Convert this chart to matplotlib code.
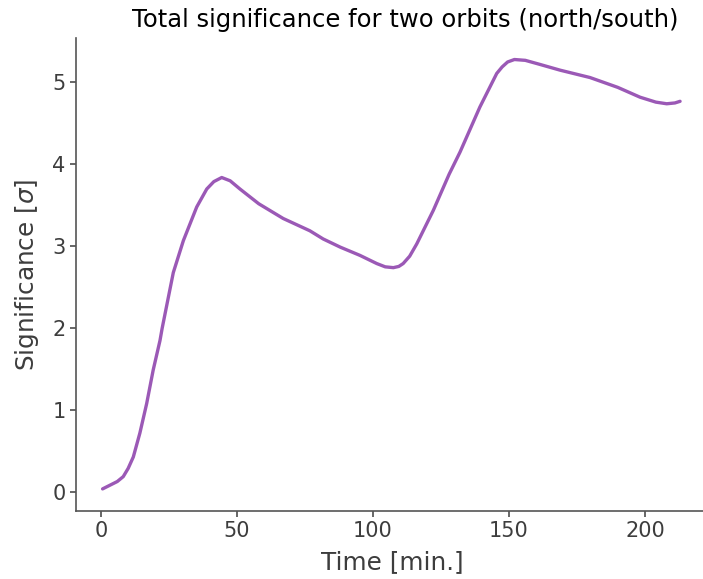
import matplotlib
matplotlib.use('Agg')
import matplotlib.pyplot as plt

# time [min.] and significance
time_min = [0.6, 3.3, 6, 8.2, 10, 11.9, 14.3, 16.8, 19.2, 21.7, 22.5, 26.6, 30.3,
            35.2, 38.9, 41.5, 44.4, 47.5, 51.1, 58, 67, 76.8, 81.7, 88, 95.2, 101.4,
            104.5, 107.5, 109.5, 111.1, 113.5, 116.1, 122.2, 128, 132, 139.3, 145.5,
            147.5, 149.5, 152, 156, 161.4, 168.8, 179.8, 190, 198.2, 204, 208, 211, 212.9]
signif = [0.04, 0.085, 0.13, 0.19, 0.29, 0.43, 0.72, 1.08, 1.49, 1.85, 2.0, 2.68, 3.07,
          3.48, 3.70, 3.79, 3.84, 3.80, 3.70, 3.52, 3.34, 3.19, 3.09, 2.99, 2.89, 2.79,
          2.75, 2.74, 2.755, 2.79, 2.88, 3.03, 3.44, 3.88, 4.15, 4.70, 5.11,
          5.19, 5.25, 5.28, 5.27, 5.22, 5.15, 5.06, 4.94, 4.82, 4.76, 4.74, 4.75, 4.77]

text_col = '#3d3d3d'

fig = plt.figure(figsize=(7.03, 5.79), dpi=100)
# right end of the axes is just past the picture edge
ax = fig.add_axes([0.108, 0.1174, 0.9004, 0.8166])

ax.plot(time_min, signif, color='#9b59b6', lw=2.4, solid_capstyle='round')

ax.set_title('Total significance for two orbits (north/south)', fontsize=17.5,
             color='black', pad=8, x=0.521)
ax.set_xlabel('Time [min.]', fontsize=17.8, color=text_col, labelpad=6)
ax.set_ylabel(r'Significance [$\sigma$]', fontsize=17.8, color=text_col, labelpad=8)

ax.set_xlim(-9.2, 223.5)
ax.set_ylim(-0.23, 5.54)
ax.set_xticks([0, 50, 100, 150, 200])
ax.set_yticks([0, 1, 2, 3, 4, 5])
ax.tick_params(labelsize=15, colors=text_col, length=4, width=1.1)

for s in ['top', 'right']:
    ax.spines[s].set_visible(False)
for s in ['left', 'bottom']:
    ax.spines[s].set_color('#555555')
    ax.spines[s].set_linewidth(1.2)

fig.savefig('out.png', dpi=100)
